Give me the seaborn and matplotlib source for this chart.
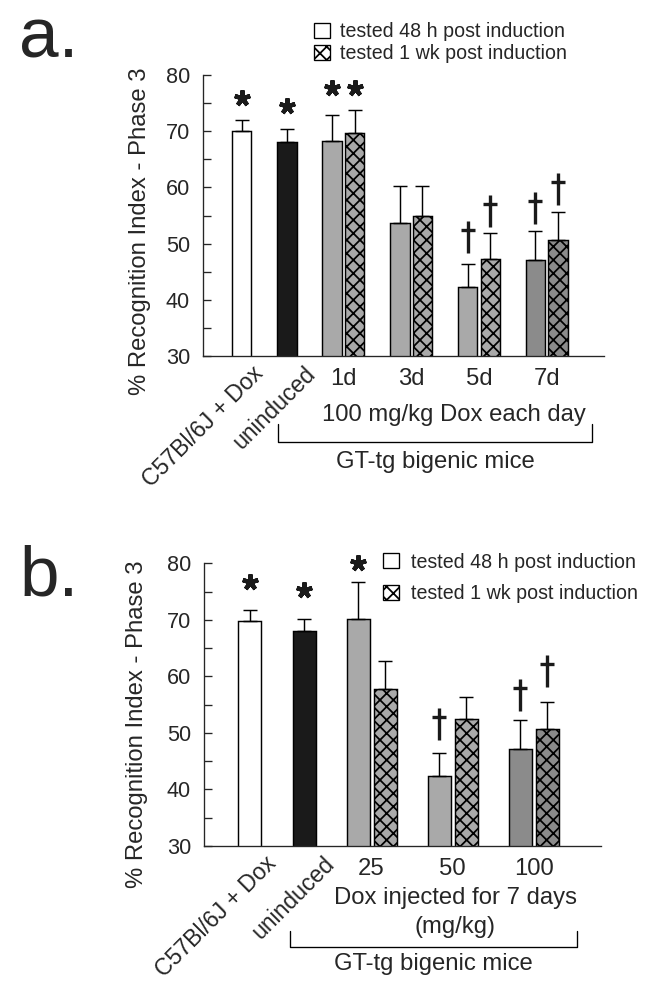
import numpy as np
import pandas as pd
import matplotlib
matplotlib.use("Agg")
import matplotlib.pyplot as plt
from matplotlib.patches import Patch
from matplotlib.path import Path
import seaborn as sns

sns.set_style("ticks")
plt.rcParams["font.family"] = ["Liberation Sans", "DejaVu Sans"]
plt.rcParams["hatch.linewidth"] = 1.6
plt.rcParams["hatch.color"] = "#1a1a1a"

# ---- panel a: 100 mg/kg Dox, days of induction ----
labels_a = ["C57Bl/6J + Dox", "uninduced", "1d", "1d", "3d", "3d", "5d", "5d", "7d", "7d"]
tests_a = ["48 h", "48 h", "48 h", "1 wk", "48 h", "1 wk", "48 h", "1 wk", "48 h", "1 wk"]
mean_a = [70.0, 68.1, 68.3, 69.7, 53.6, 54.9, 42.3, 47.3, 47.1, 50.6]
err_a = [2.0, 2.3, 4.5, 4.1, 6.7, 5.4, 4.1, 4.5, 5.2, 5.0]
stars_a = [("C57Bl/6J + Dox", "48 h", 75.9), ("uninduced", "48 h", 74.4),
           ("1d", "48 h", 77.7), ("1d", "1 wk", 77.7)]
daggers_a = [("5d", "48 h", 51.1), ("5d", "1 wk", 55.8),
             ("7d", "48 h", 56.4), ("7d", "1 wk", 59.7)]

# ---- panel b: dose, 7 days of injection ----
labels_b = ["C57Bl/6J + Dox", "uninduced", "25", "25", "50", "50", "100", "100"]
tests_b = ["48 h", "48 h", "48 h", "1 wk", "48 h", "1 wk", "48 h", "1 wk"]
mean_b = [69.8, 68.0, 70.2, 57.7, 42.3, 52.5, 47.1, 50.6]
err_b = [2.0, 2.2, 6.4, 5.0, 4.1, 3.8, 5.1, 4.8]
stars_b = [("C57Bl/6J + Dox", "48 h", 76.7), ("uninduced", "48 h", 75.2), ("25", "48 h", 80.1)]
daggers_b = [("50", "48 h", 51.6), ("100", "48 h", 56.7), ("100", "1 wk", 60.9)]

legend_labels = ["tested 48 h post induction", "tested 1 wk post induction"]

LIGHT = "#a9a9a9"
DARK = "#8b8b8b"

# narrow dagger symbol
DAGGER = Path([(0, 0.5), (0, -0.5), (-0.21, 0.22), (0.21, 0.22)],
              [Path.MOVETO, Path.LINETO, Path.MOVETO, Path.LINETO])


def slot(labels):
    # two single control bars, then (48 h, 1 wk) pairs
    order = list(dict.fromkeys(labels))
    return {lab: (2 * i if i < 2 else 4 + 3 * (i - 2)) for i, lab in enumerate(order)}


def draw_panel(ax, labels, tests, means, errs, stars, daggers, dark_group, width):
    base = slot(labels)
    df = pd.DataFrame({"label": labels, "test": tests, "mean": means, "err": errs})
    df["pos"] = [base[l] + (1 if t == "1 wk" else 0) for l, t in zip(labels, tests)]

    sns.barplot(data=df, x="pos", y="mean", native_scale=True, width=width,
                color="white", edgecolor="black", linewidth=1.3, errorbar=None, ax=ax)
    fills = []
    for l, t in zip(labels, tests):
        if l == "C57Bl/6J + Dox":
            fills.append(("white", ""))
        elif l == "uninduced":
            fills.append(("#1a1a1a", ""))
        else:
            fills.append((DARK if l == dark_group else LIGHT, "xx" if t == "1 wk" else ""))
    bars = sorted(ax.patches, key=lambda p: p.get_x())
    for p, (fc, h) in zip(bars, [fills[i] for i in np.argsort(df["pos"].values)]):
        p.set_facecolor(fc)
        p.set_hatch(h)

    ax.errorbar(df["pos"], df["mean"], yerr=[np.zeros(len(df)), df["err"]], fmt="none",
                ecolor="black", elinewidth=1.3, capsize=6, capthick=1.3)

    sx = [base[l] + (1 if t == "1 wk" else 0) for l, t, _ in stars]
    ax.plot(sx, [y for _, _, y in stars], ls="none", marker=(5, 2, 0), ms=14.5, mew=3.9,
            color="#1a1a1a", clip_on=False)
    dx = [base[l] + (1 if t == "1 wk" else 0) for l, t, _ in daggers]
    ax.plot(dx, [y for _, _, y in daggers], ls="none", marker=DAGGER, ms=28, mew=3.0,
            color="#1a1a1a", clip_on=False)

    ax.set_ylim(30, 80)
    ax.set_yticks(range(30, 81, 10))
    ax.set_yticks(np.arange(35, 80, 10), minor=True)
    ax.tick_params(axis="y", which="both", direction="in", length=7.2, width=1.2,
                   labelsize=19.5, pad=11.7)
    pairs = list(base.keys())[2:]
    ax.set_xticks([base[p] + 0.5 for p in pairs], pairs)
    ax.tick_params(axis="x", length=0, labelsize=21.5, pad=10.8)
    ax.set_xlabel("")
    ax.set_ylabel("% Recognition Index - Phase 3", fontsize=21.5)
    sns.despine(ax=ax)
    for s in ("left", "bottom"):
        ax.spines[s].set_linewidth(1.2)
    return base


fig = plt.figure(figsize=(8.3, 12.4), dpi=80)
ax_a = fig.add_axes([0.3057, 0.6411, 0.6045, 0.2833])
ax_b = fig.add_axes([0.3072, 0.1472, 0.5986, 0.285])

base_a = draw_panel(ax_a, labels_a, tests_a, mean_a, err_a, stars_a, daggers_a, "7d", 0.86)
base_b = draw_panel(ax_b, labels_b, tests_b, mean_b, err_b, stars_b, daggers_b, "100", 0.85)
ax_a.set_xlim(-1.71, 16.05)
ax_b.set_xlim(-1.70, 13.0)
ax_a.yaxis.set_label_coords(-0.13, 0.443)
ax_b.yaxis.set_label_coords(-0.141, 0.431)

# rotated control labels
for ax, base, offs in ((ax_a, base_a, (0.44, 0.74)), (ax_b, base_b, (0.54, 0.70))):
    for lab, off in zip(["C57Bl/6J + Dox", "uninduced"], offs):
        ax.annotate(lab, xy=(base[lab] + off, 0), xycoords=("data", "axes fraction"),
                    xytext=(0, -5.5), textcoords="offset points", rotation=45,
                    rotation_mode="anchor", ha="right", va="top", fontsize=20.7)

tx_a = ax_a.get_xaxis_transform()
ax_a.text(9.4, -0.21, "100 mg/kg Dox each day", transform=tx_a, ha="center", va="center",
          fontsize=21.5)
ax_a.plot([1.63, 1.63, 15.5, 15.5], [-0.242, -0.305, -0.305, -0.242], transform=tx_a,
          color="black", lw=1.2, clip_on=False)
ax_a.text(8.57, -0.376, "GT-tg bigenic mice", transform=tx_a, ha="center", va="center",
          fontsize=21.5)

tx_b = ax_b.get_xaxis_transform()
ax_b.text(7.6, -0.184, "Dox injected for 7 days", transform=tx_b, ha="center", va="center",
          fontsize=21.5)
ax_b.text(7.6, -0.285, "(mg/kg)", transform=tx_b, ha="center", va="center", fontsize=21.5)
ax_b.plot([1.49, 1.49, 12.1, 12.1], [-0.299, -0.357, -0.357, -0.299], transform=tx_b,
          color="black", lw=1.2, clip_on=False)
ax_b.text(6.8, -0.416, "GT-tg bigenic mice", transform=tx_b, ha="center", va="center",
          fontsize=21.5)

handles = [Patch(facecolor="white", edgecolor="black", linewidth=1.2),
           Patch(facecolor="white", edgecolor="black", linewidth=1.2, hatch="xx")]
ax_a.legend(handles, legend_labels, loc="center left", bbox_to_anchor=(314 / 664, 1 - 42.5 / 992),
            bbox_transform=fig.transFigure, frameon=False, fontsize=17.7, borderpad=0,
            borderaxespad=0, handlelength=0.8, handleheight=0.8, handletextpad=0.5,
            labelspacing=0.15)
ax_b.legend(handles, legend_labels, loc="center left", bbox_to_anchor=(383 / 664, 1 - 578 / 992),
            bbox_transform=fig.transFigure, frameon=False, fontsize=17.7, borderpad=0,
            borderaxespad=0, handlelength=0.8, handleheight=0.8, handletextpad=0.6,
            labelspacing=0.65)

fig.text(19 / 664, 1 - 57 / 992, "a.", fontsize=64, ha="left", va="baseline")
fig.text(19 / 664, 1 - 595 / 992, "b.", fontsize=64, ha="left", va="baseline")

fig.savefig("out.png", dpi=80)
